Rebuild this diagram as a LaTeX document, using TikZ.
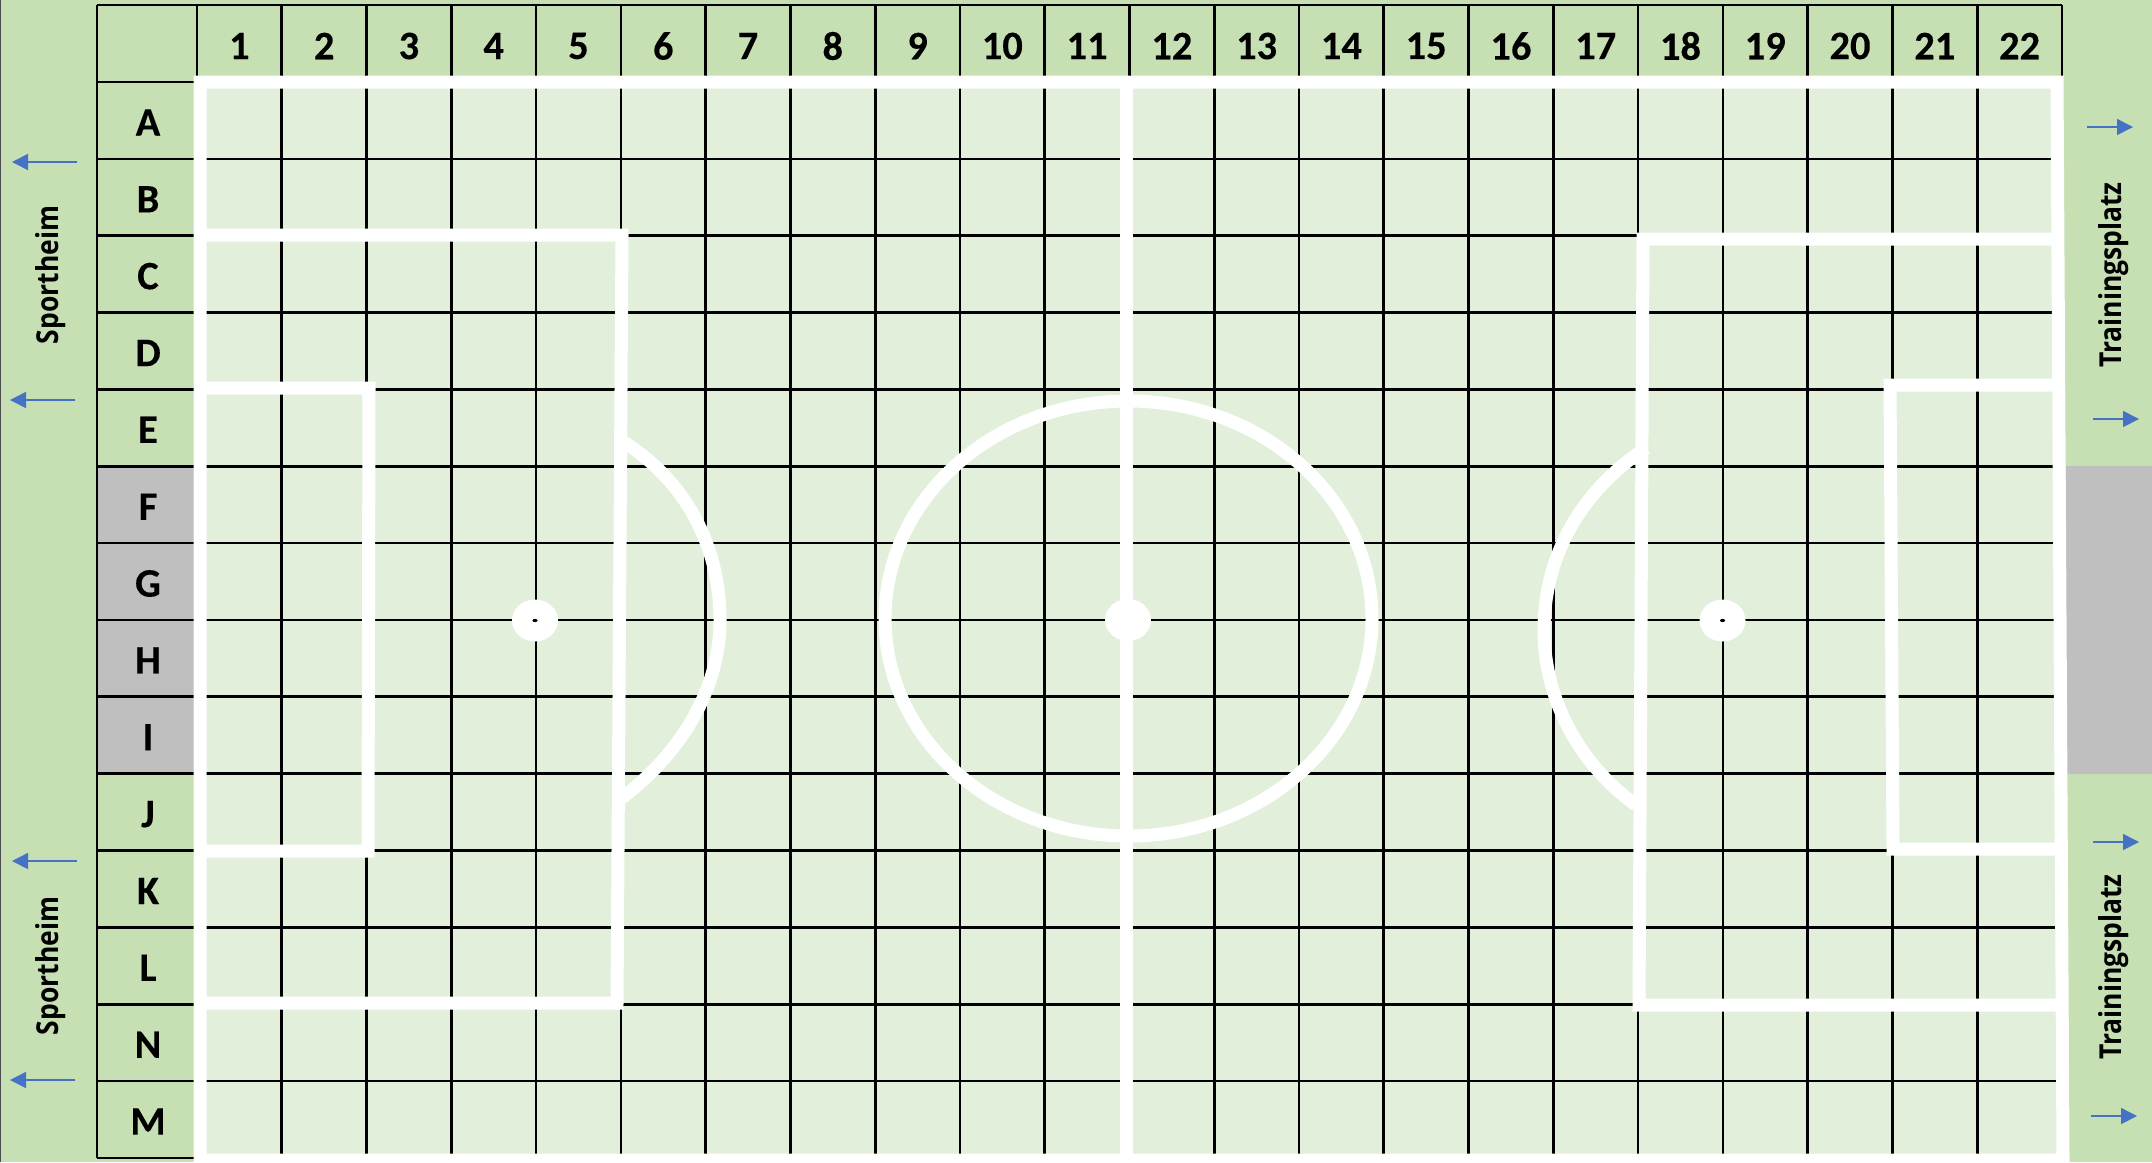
\documentclass[tikz,border=0pt]{standalone}
\usepackage{fontspec}
\setmainfont[BoldFeatures={FakeBold=0.25}]{Carlito}
\newfontfamily\sidefont[FakeStretch=0.875]{Open Sans}
\usetikzlibrary{arrows.meta,calc,positioning}
\definecolor{bandgreen}{HTML}{C6E0B4}
\definecolor{cellgreen}{HTML}{E2EFDA}
\definecolor{closedgray}{HTML}{BFBFBF}
\definecolor{arrowblue}{HTML}{4472C4}
\tikzset{
  gridline/.style={black,line width=0.27mm},
  pitchline/.style={white,line width=1.3mm,line join=miter},
  headlabel/.style={font=\fontsize{11.5}{12}\selectfont\bfseries,inner sep=0pt},
  sidelabel/.style={font=\sidefont\fontsize{8.6}{10}\selectfont\bfseries,rotate=90,inner sep=0pt},
  walkarrow/.style={arrowblue,line width=0.16mm,-{Triangle[length=1.6mm,width=1.6mm]}},
}
\begin{document}
\begin{tikzpicture}[x=0.1mm,y=-0.1mm]
  \useasboundingbox (0,0) rectangle (2152,1162);
  % background
  \fill[bandgreen] (0,0) rectangle (2152,1162);
  \fill[cellgreen] (197,82) rectangle (2062,1158);
  \fill[closedgray] (97,466) rectangle (197,774);
  \fill[closedgray] (2066,466) rectangle (2152,774);
  \draw[black!70,line width=0.1mm] (0.5,0) -- (0.5,1162);
  % grid
  \foreach \col in {0,...,22}{\draw[gridline] ({197+84.77*\col},5) -- ({197+84.77*\col},1158);}
  \foreach \row in {0,...,14}{\draw[gridline] (97,{82+76.85*\row}) -- (2062,{82+76.85*\row});}
  \draw[gridline] (97,5) -- (2062,5);
  \draw[gridline] (97,5) -- (97,1158);
  % labels
  \foreach \col in {1,...,22}{\node[headlabel] (col\col) at ({197+84.77*(\col-0.5)},46) {\col};}
  \foreach \name [count=\row] in {A,B,C,D,E,F,G,H,I,J,K,L,N,M}{\node[headlabel] (row\name) at (148,{84+76.85*(\row-0.5)}) {\name};}
  % pitch
  \draw[pitchline] (200,82) -- (2057,82) -- (2063,1160) -- (200,1160) -- cycle;
  \draw[pitchline] (200,235) -- (622,235) -- (617,1003) -- (200,1003);
  \draw[pitchline] (200,388) -- (369,388) -- (368,851) -- (200,851);
  \draw[pitchline] (2057,239) -- (1643,239) -- (1639,1005) -- (2060,1005);
  \draw[pitchline] (2058,385) -- (1890,385) -- (1893,849) -- (2060,849);
  \draw[pitchline] (1126,82) -- (1126,1160);
  \draw[pitchline] (1128.5,618.5) ellipse (243.5 and 217.5);
  \draw[pitchline] (622,441) .. controls (685,480) and (720,545) .. (720,620) .. controls (720,690) and (680,755) .. (619,800);
  \draw[pitchline] (1646,448) .. controls (1582,490) and (1544,555) .. (1544,630) .. controls (1544,700) and (1580,765) .. (1636,805);
  \fill[white] (1128,620) ellipse (23 and 21);
  \fill[white] (535,620.5) ellipse (23 and 21);
  \fill[white] (1722.5,620.5) ellipse (23 and 21);
  \fill[black] (535,620.5) ellipse (2.6 and 1.6);
  \fill[black] (1722.5,620.5) ellipse (2.6 and 1.6);
  % sides
  \node[sidelabel] (homeA) at (51,275) {Sportheim};
  \node[sidelabel] (homeB) at (51,966) {Sportheim};
  \node[sidelabel] (trainA) at (2114,275) {Trainingsplatz};
  \node[sidelabel] (trainB) at (2114,967) {Trainingsplatz};
  % arrows
  \coordinate (outA) at (12,162);   \coordinate (inA) at (77,162);
  \coordinate (outB) at (10,400);   \coordinate (inB) at (75,400);
  \coordinate (outC) at (12,861);   \coordinate (inC) at (77,861);
  \coordinate (outD) at (10,1080);  \coordinate (inD) at (75,1080);
  \coordinate (outE) at (2133,127); \coordinate (inE) at (2087,127);
  \coordinate (outF) at (2139,419); \coordinate (inF) at (2093,419);
  \coordinate (outG) at (2139,842); \coordinate (inG) at (2093,842);
  \coordinate (outH) at (2137,1116);\coordinate (inH) at (2091,1116);
  \foreach \arr in {A,...,H}{\draw[walkarrow] (in\arr) -- (out\arr);}
\end{tikzpicture}
\end{document}
